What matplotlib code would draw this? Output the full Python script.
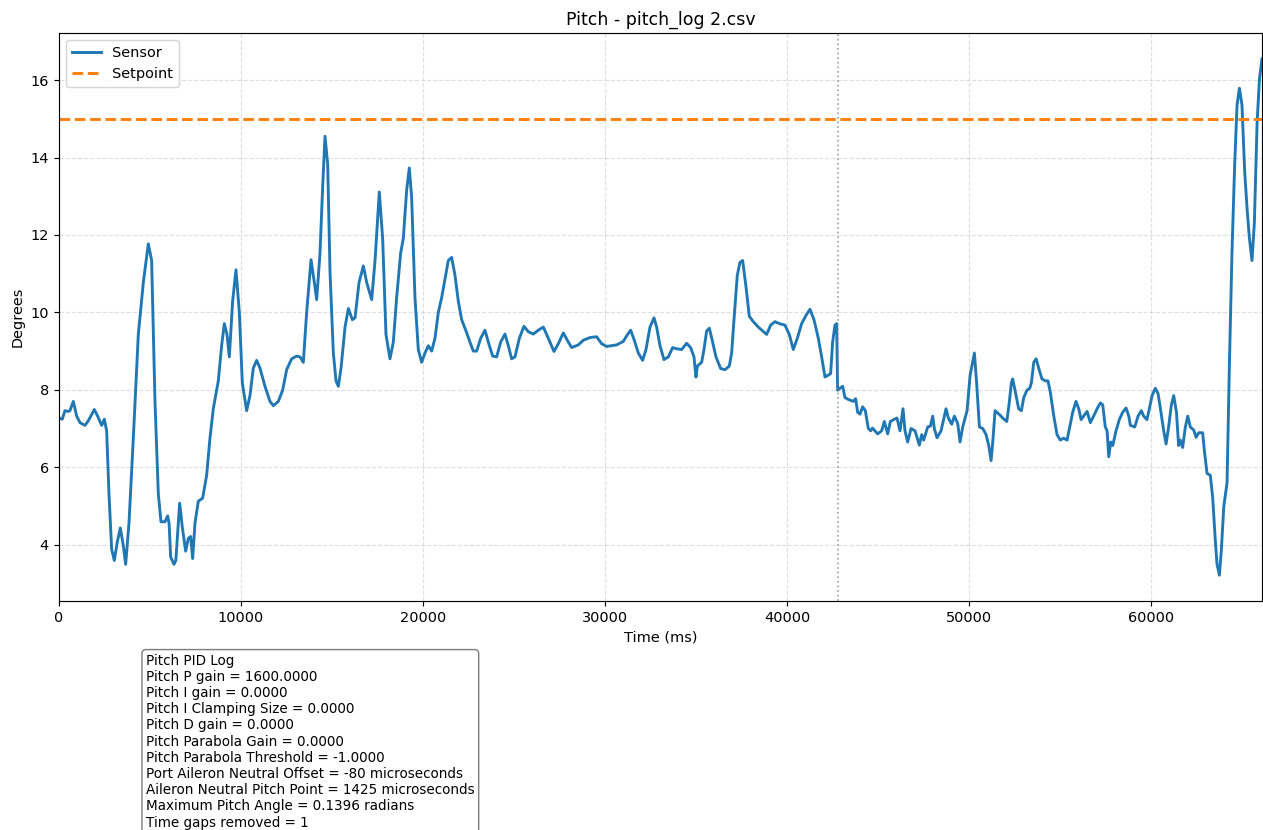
import matplotlib
matplotlib.use("Agg")
import matplotlib.pyplot as plt

# pitch log samples (time gaps already removed)
time_ms = [
    0, 180, 330, 513, 600, 788, 971, 1154, 1429, 1612, 1941, 2125, 2345, 2491, 2619, 2747,
    2894, 3040, 3205, 3370, 3535, 3663, 3846, 4084, 4359, 4634, 4908, 5091, 5275, 5458,
    5604, 5824, 5971, 6050, 6136, 6319, 6420, 6630, 6776, 6960, 7106, 7234, 7344, 7472,
    7655, 7893, 8113, 8296, 8479, 8754, 8937, 9084, 9231, 9359, 9542, 9725, 9909, 10073,
    10311, 10494, 10677, 10861, 11044, 11319, 11594, 11777, 12052, 12290, 12510, 12785,
    13060, 13243, 13426, 13609, 13848, 14031, 14159, 14342, 14489, 14617, 14764, 14892,
    15075, 15222, 15350, 15497, 15717, 15900, 16120, 16266, 16486, 16724, 16908, 17183,
    17366, 17600, 17784, 17967, 18187, 18370, 18553, 18773, 18919, 19103, 19249, 19377,
    19560, 19744, 19927, 20110, 20293, 20476, 20659, 20843, 21026, 21209, 21392, 21575,
    21758, 21941, 22125, 22363, 22582, 22766, 22949, 23169, 23407, 23590, 23828, 24048,
    24267, 24505, 24689, 24872, 25055, 25293, 25549, 25788, 26063, 26337, 26612, 26887,
    27198, 27436, 27711, 27930, 28168, 28535, 28809, 29176, 29542, 29817, 30092, 30366,
    30641, 31007, 31227, 31410, 31612, 31832, 32070, 32253, 32473, 32692, 32839, 33022,
    33242, 33480, 33718, 33938, 34213, 34487, 34707, 34890, 35000, 35073, 35311, 35440,
    35586, 35733, 35916, 36099, 36355, 36593, 36831, 36960, 37088, 37271, 37417, 37564,
    37747, 37930, 38150, 38425, 38663, 38883, 39103, 39341, 39579, 39890, 40128, 40348,
    40568, 40806, 41044, 41264, 41484, 41722, 41905, 42088, 42271, 42399, 42509, 42637,
    42729, 42784, 42912, 43059, 43187, 43370, 43645, 43773, 43883, 44011, 44158, 44305,
    44470, 44598, 44700, 44983, 45202, 45349, 45532, 45679, 45899, 46045, 46210, 46375,
    46485, 46632, 46816, 47036, 47274, 47402, 47512, 47732, 47879, 48007, 48099, 48245,
    48465, 48740, 48868, 49051, 49198, 49382, 49510, 49657, 49895, 50060, 50298, 50427,
    50573, 50757, 50940, 51087, 51215, 51307, 51435, 51673, 51856, 52076, 52200, 52330,
    52400, 52550, 52730, 52880, 53010, 53190, 53340, 53430, 53560, 53690, 53830, 54010,
    54200, 54340, 54470, 54660, 54840, 55020, 55200, 55390, 55520, 55700, 55880, 56030,
    56160, 56300, 56490, 56670, 56850, 57040, 57220, 57350, 57490, 57590, 57680, 57790,
    57900, 58080, 58260, 58450, 58630, 58780, 58870, 59110, 59290, 59470, 59600, 59780,
    59910, 60060, 60240, 60390, 60520, 60700, 60830, 60970, 61120, 61250, 61400, 61520,
    61610, 61740, 61890, 62020, 62160, 62350, 62480, 62620, 62840, 62950, 63080, 63260,
    63390, 63540, 63630, 63760, 63870, 64000, 64180, 64310, 64450, 64600, 64730, 64860,
    65000, 65150, 65280, 65410, 65550, 65680, 65830, 65960, 66100,
]
sensor_deg = [
    7.27, 7.24, 7.46, 7.44, 7.46, 7.70, 7.32, 7.15, 7.08, 7.20, 7.49, 7.32, 7.08, 7.24, 6.94, 5.31,
    3.88, 3.59, 4.07, 4.43, 3.97, 3.49, 4.55, 6.75, 9.43, 10.77, 11.77, 11.34, 7.70, 5.31,
    4.59, 4.59, 4.74, 4.55, 3.68, 3.49, 3.59, 5.07, 4.45, 3.83, 4.16, 4.21, 3.64, 4.55,
    5.12, 5.20, 5.79, 6.75, 7.51, 8.23, 9.14, 9.71, 9.43, 8.85, 10.29, 11.10, 10.00, 8.18,
    7.46, 7.85, 8.56, 8.76, 8.56, 8.09, 7.70, 7.59, 7.70, 7.99, 8.52, 8.80,
    8.87, 8.85, 8.71, 10.00, 11.36, 10.77, 10.33, 11.53, 13.25, 14.55, 13.83, 11.05,
    8.95, 8.23, 8.09, 8.56, 9.62, 10.10, 9.81, 9.86, 10.77, 11.20, 10.77, 10.33,
    11.34, 13.11, 11.91, 9.43, 8.80, 9.23, 10.38, 11.53, 11.91, 13.16, 13.73, 12.97,
    10.38, 9.04, 8.71, 8.95, 9.14, 9.00, 9.33, 10.00, 10.38, 10.86, 11.34, 11.42,
    10.96, 10.29, 9.81, 9.52, 9.23, 9.00, 9.00, 9.33, 9.54, 9.23, 8.87, 8.85,
    9.23, 9.44, 9.14, 8.80, 8.85, 9.33, 9.64, 9.50, 9.44, 9.54, 9.62, 9.33,
    8.99, 9.19, 9.47, 9.28, 9.09, 9.16, 9.28, 9.35, 9.37, 9.19, 9.12, 9.14,
    9.16, 9.25, 9.42, 9.54, 9.28, 8.95, 8.76, 9.04, 9.62, 9.86, 9.62, 9.14,
    8.78, 8.85, 9.09, 9.06, 9.04, 9.20, 9.09, 8.85, 8.33, 8.61, 8.71, 9.04,
    9.52, 9.59, 9.23, 8.85, 8.55, 8.52, 8.61, 8.95, 9.81, 10.96, 11.29, 11.34,
    10.67, 9.90, 9.76, 9.62, 9.52, 9.43, 9.67, 9.76, 9.71, 9.67, 9.43, 9.04,
    9.33, 9.71, 9.92, 10.08, 9.81, 9.33, 8.85, 8.33, 8.38, 8.42, 9.23, 9.67,
    9.71, 7.99, 8.04, 8.09, 7.80, 7.75, 7.70, 7.77, 7.42, 7.37, 7.56, 7.46,
    7.00, 6.94, 7.01, 6.86, 6.94, 7.18, 6.86, 7.18, 7.24, 7.27, 6.94, 7.51,
    6.94, 6.65, 7.00, 6.94, 6.57, 6.84, 6.70, 7.04, 7.06, 7.32, 6.99, 6.76,
    6.94, 7.51, 7.27, 7.11, 7.32, 7.13, 6.65, 7.04, 7.46, 8.37, 8.95, 8.13,
    7.04, 7.00, 6.84, 6.56, 6.17, 6.65, 7.46, 7.36, 7.27, 7.18, 7.61, 8.18,
    8.28, 7.94, 7.51, 7.46, 7.80, 7.99, 8.04, 8.18, 8.71, 8.80, 8.56, 8.28,
    8.23, 8.23, 7.94, 7.32, 6.84, 6.70, 6.75, 6.70, 7.00, 7.42, 7.70, 7.51,
    7.23, 7.32, 7.44, 7.15, 7.32, 7.51, 7.66, 7.61, 7.04, 6.94, 6.27, 6.65,
    6.56, 6.94, 7.23, 7.42, 7.53, 7.32, 7.08, 7.04, 7.32, 7.46, 7.32, 7.23,
    7.51, 7.85, 8.04, 7.90, 7.51, 6.94, 6.60, 7.04, 7.61, 7.85, 7.42, 6.56,
    6.70, 6.51, 7.04, 7.32, 7.04, 6.96, 6.77, 6.89, 6.89, 6.36, 5.84, 5.79,
    5.22, 4.07, 3.49, 3.21, 3.88, 4.98, 5.60, 8.66, 11.53, 13.83, 15.36, 15.79,
    15.36, 13.64, 12.68, 11.91, 11.34, 12.30, 14.88, 16.03, 16.55,
]
setpoint_deg = 15.0
gap_times = [42784]

params_text = "\n".join([
    "Pitch PID Log",
    "Pitch P gain = 1600.0000",
    "Pitch I gain = 0.0000",
    "Pitch I Clamping Size = 0.0000",
    "Pitch D gain = 0.0000",
    "Pitch Parabola Gain = 0.0000",
    "Pitch Parabola Threshold = -1.0000",
    "Port Aileron Neutral Offset = -80 microseconds",
    "Aileron Neutral Pitch Point = 1425 microseconds",
    "Maximum Pitch Angle = 0.1396 radians",
    "Time gaps removed = 1",
])

DPI = 104


def plot_pitch(path="out.png"):
    fig = plt.figure(figsize=(1263 / DPI, 830 / DPI), dpi=DPI)
    ax = fig.add_axes([0.0467, 0.2759, 0.9525, 0.6843])

    ax.plot(time_ms, sensor_deg, color="tab:blue", lw=2, label="Sensor")
    ax.plot(time_ms, [setpoint_deg] * len(time_ms), color="tab:orange",
            lw=2, ls="--", label="Setpoint")
    for g in gap_times:
        ax.axvline(g, color="gray", ls=":", lw=1.2, alpha=0.7)

    ax.set_xlim(time_ms[0], time_ms[-1])
    ax.set_title("Pitch - pitch_log 2.csv")
    ax.set_xlabel("Time (ms)")
    ax.set_ylabel("Degrees")
    ax.grid(True, ls="--", alpha=0.4)
    ax.legend(loc="upper left")

    fig.text(0.1156, 0.2125, params_text, fontsize=9.35, va="top", ha="left",
             bbox=dict(boxstyle="round", facecolor="white", edgecolor="gray"))

    fig.savefig(path, dpi=DPI)


plot_pitch()
